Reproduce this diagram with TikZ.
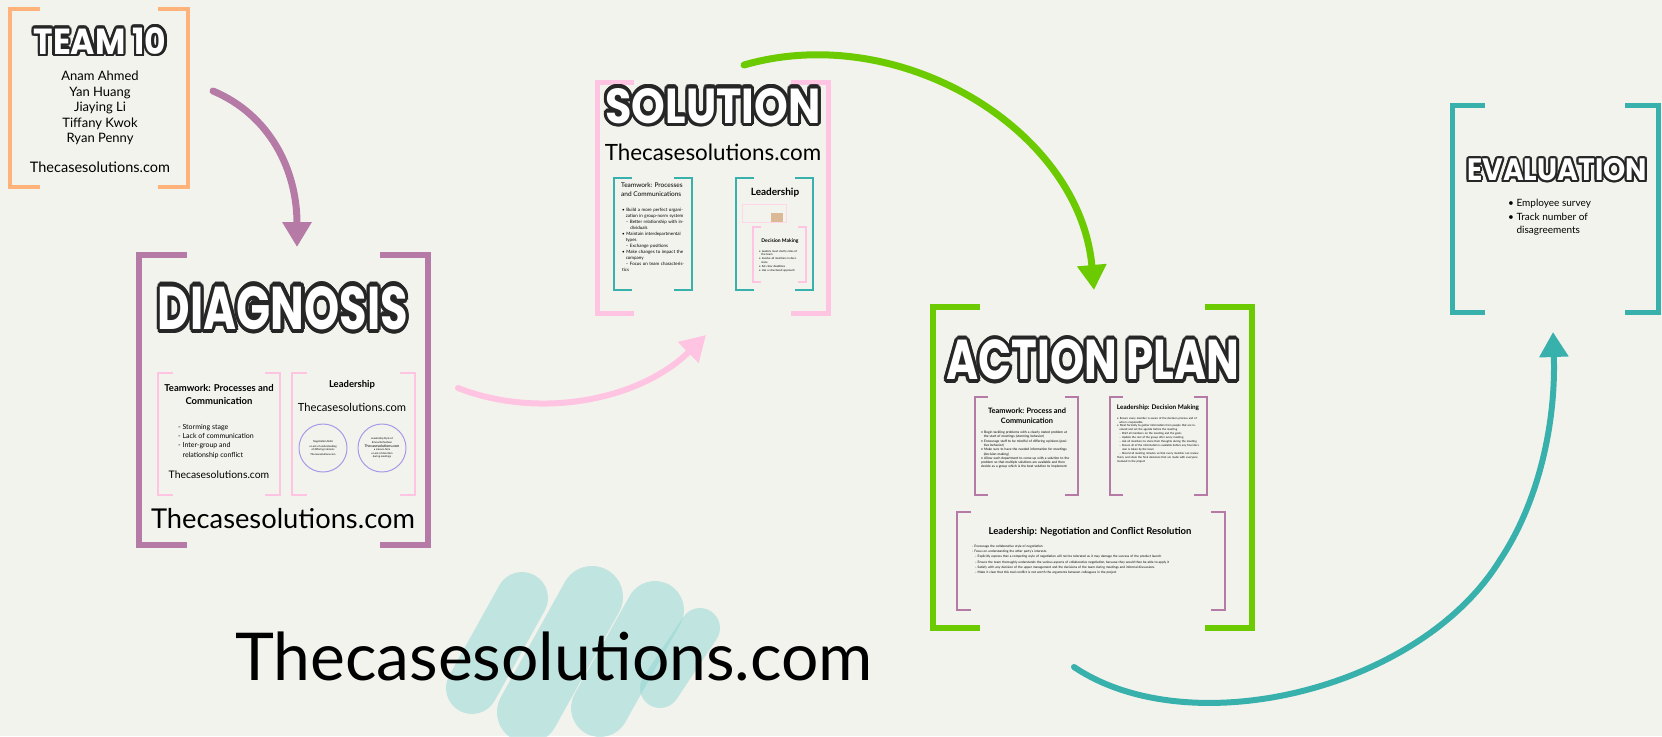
\documentclass[tikz,border=0pt]{standalone}
\usepackage{fontspec}
\setmainfont{Lato}
\newfontfamily\ttlfont{Poppins}
\usepackage{graphicx}
\usepackage{contour}
\contourlength{1.4pt}
\usetikzlibrary{arrows.meta}
\definecolor{bg}{HTML}{F3F3EE}
\definecolor{peach}{HTML}{FFB27A}
\definecolor{mauve}{HTML}{B57BA6}
\definecolor{blush}{HTML}{FFC4E1}
\definecolor{lime}{HTML}{6CCB00}
\definecolor{sea}{HTML}{38B0AC}
\definecolor{lilac}{HTML}{A899E8}
\definecolor{brushsea}{HTML}{8FD6D3}
\newcommand{\fs}[2]{\fontsize{#1}{#2}\selectfont}
\newcommand{\ttl}[3]{\resizebox{#1pt}{#2pt}{\contour{black!85}{\textcolor{white}{\ttlfont\bfseries\fs{20}{20}#3}}}}
\newcommand{\itm}[1]{\par\hangindent=0.8em\hangafter=1\textbullet\ #1}
\newcommand{\sitm}[1]{\par\hangindent=1.8em\hangafter=1\hspace*{0.8em}--\ #1}
\newcommand{\brackets}[3]{%
  \draw[#3] ([xshift=#2]#1.north west) -- (#1.north west) -- (#1.south west) -- ([xshift=#2]#1.south west);
  \draw[#3] ([xshift=-#2]#1.north east) -- (#1.north east) -- (#1.south east) -- ([xshift=-#2]#1.south east);}
\tikzstyle{slide}=[inner sep=0, outer sep=0]
\tikzstyle{url}=[inner sep=0, anchor=base]
\tikzstyle{head}=[inner sep=0, font=\bfseries, align=center]
\tikzstyle{small}=[inner sep=0, anchor=north west, align=left]
\tikzstyle{flowarrow}=[line width=7pt, line cap=round, -{Triangle[length=25pt,width=28pt]}]
\begin{document}
\begin{tikzpicture}[x=1pt, y=-1pt]
    \useasboundingbox[fill=bg] (0,0) rectangle (1662,736);
    % frames
    \node[slide, minimum width=178pt, minimum height=178pt] (team) at (99,98) {};
    \node[slide, minimum width=289pt, minimum height=290pt] (diag) at (283.5,400) {};
    \node[slide, minimum width=122pt, minimum height=122pt] (diagl) at (219,434) {};
    \node[slide, minimum width=123pt, minimum height=122pt] (diagr) at (353.5,434) {};
    \node[slide, minimum width=231pt, minimum height=231pt] (sol) at (712.5,197.5) {};
    \node[slide, minimum width=78pt, minimum height=112pt] (soll) at (653,234) {};
    \node[slide, minimum width=77pt, minimum height=112pt] (solr) at (774.5,234) {};
    \node[slide, minimum width=53pt, minimum height=55pt] (sold) at (779.5,254.5) {};
    \node[slide, minimum width=319pt, minimum height=321pt] (act) at (1092.5,467.5) {};
    \node[slide, minimum width=103pt, minimum height=98pt] (actl) at (1026.5,446) {};
    \node[slide, minimum width=97pt, minimum height=98pt] (actr) at (1158.5,446) {};
    \node[slide, minimum width=268pt, minimum height=98pt] (actb) at (1091,561) {};
    \node[slide, minimum width=206pt, minimum height=207pt] (eval) at (1555,208.5) {};
    \brackets{team}{30pt}{peach, line width=4pt}
    \brackets{diag}{48pt}{mauve, line width=6pt}
    \brackets{diagl}{15pt}{blush, line width=2.5pt}
    \brackets{diagr}{15pt}{blush, line width=2.5pt}
    \brackets{sol}{37pt}{blush, line width=5pt}
    \brackets{soll}{18pt}{sea, line width=2.5pt}
    \brackets{solr}{18pt}{sea, line width=2.5pt}
    \brackets{sold}{8pt}{blush, line width=1.2pt}
    \brackets{act}{47pt}{lime, line width=6pt}
    \brackets{actl}{13pt}{mauve, line width=2.5pt}
    \brackets{actr}{13pt}{mauve, line width=2.5pt}
    \brackets{actb}{14pt}{mauve, line width=2.5pt}
    \brackets{eval}{33pt}{sea, line width=5pt}
    % team 10
    \node (teamtitle) at (100,42) {\ttl{133}{27}{TEAM 10}};
    \node[inner sep=0, align=center, font=\fs{13}{15.5}] (names) at (100,108)
        {Anam Ahmed\\Yan Huang\\Jiaying Li\\Tiffany Kwok\\Ryan Penny};
    \node[url, font=\fs{14.5}{16}] (teamurl) at (100,172) {Thecasesolutions.com};
    % diagnosis
    \node (diagtitle) at (283,310) {\ttl{250}{43}{DIAGNOSIS}};
    \node[head, font=\bfseries\fs{9.5}{13}] (diaglhead) at (219,394.5) {Teamwork: Processes and\\Communication};
    \node[small, font=\fs{7}{9.3}] (diaglist) at (178,424)
        {- Storming stage\\- Lack of communication\\- Inter-group and\\\phantom{- }relationship conflict};
    \node[url, font=\fs{10.4}{12}] (diaglurl) at (219,478) {Thecasesolutions.com};
    \node[head, font=\bfseries\fs{9.5}{12}] (diagrhead) at (352,385) {Leadership};
    \node[url, font=\fs{11.2}{13}] (diagrurl) at (352,411) {Thecasesolutions.com};
    \node[draw=lilac, circle, line width=1pt, minimum size=48pt, inner sep=0, align=center,
          font=\fs{2.6}{3.4}] (negcircle) at (323,448)
        {Negotiation Skills\\[1pt]\textbullet\ Lack of understanding\\of differing interests\\[1pt]Thecasesolutions.com};
    \node[draw=lilac, circle, line width=1pt, minimum size=48pt, inner sep=0, align=center,
          font=\fs{2.6}{3.4}] (leadcircle) at (382,448)
        {Leadership Style of\\Emma Richardson\\[1pt]{\fs{3.6}{4.2}Thecasesolutions.com}\\\textbullet\ Laissez-faire\\\textbullet\ Lack of direction\\during meetings};
    \node[url, font=\fs{27.3}{30}] (diagurl) at (283,528) {Thecasesolutions.com};
    % solution
    \node (soltitle) at (713,107.5) {\ttl{215}{35}{SOLUTION}};
    \node[url, font=\fs{22.4}{25}] (solurl) at (713,160) {Thecasesolutions.com};
    \node[small, font=\fs{6.5}{8.8}] (sollhead) at (621,183) {Teamwork: Processes\\and Communications};
    \node[small, font=\fs{4.5}{6}, text width=64pt] (sollist) at (622,205)
        {\itm{Build a more perfect organization in group-norm system}
         \sitm{Better relationship with individuals}
         \itm{Maintain interdepartmental types}
         \sitm{Exchange positions}
         \itm{Make changes to impact the company}
         \sitm{Focus on team characteristics}};
    \node[head, font=\bfseries\fs{10}{12}] (solrhead) at (775,193) {Leadership};
    \node[draw=blush!70, line width=0.5pt, minimum width=44pt, minimum height=18pt, inner sep=0] (solimg) at (764,213) {};
    \node[fill=brown!55, minimum width=12pt, minimum height=9pt, inner sep=0] (solpic) at (777,217) {};
    \node[head, font=\bfseries\fs{5}{6}] (soldhead) at (780,241) {Decision Making};
    \node[small, font=\fs{2.8}{3.8}, text width=42pt] (soldlist) at (759,248)
        {\itm{Leaders must clarify roles of the team}
         \itm{Involve all members in decisions}
         \itm{Set clear deadlines}
         \itm{Use a structured approach}};
    % action plan
    \node (acttitle) at (1093,362) {\ttl{293}{40}{ACTION PLAN}};
    \node[head, font=\bfseries\fs{7.4}{10}] (actlhead) at (1027,416) {Teamwork: Process and\\Communication};
    \node[small, font=\fs{3.3}{4.3}, text width=90pt] (actllist) at (981,429)
        {\itm{Begin tackling problems with a clearly stated problem at the start of meetings (storming behavior)}
         \itm{Encourage staff to be mindful of differing opinions (positive behavior)}
         \itm{Make sure to have the needed information for meetings (decision making)}
         \itm{Allow each department to come up with a solution to the problem so that multiple solutions are available and then decide as a group which is the best solution to implement}};
    \node[head, font=\bfseries\fs{6.4}{8}] (actrhead) at (1158,408) {Leadership: Decision Making};
    \node[small, font=\fs{2.8}{3.9}, text width=84pt] (actrlist) at (1117,415)
        {\itm{Ensure every member is aware of the decision process and of who is responsible}
         \itm{Meet formally to gather information from people that are involved and set the agenda before the meeting}
         \sitm{Brief all members on the meeting and the goals}
         \sitm{Update the rest of the group after every meeting}
         \sitm{Ask all members to share their thoughts during the meeting}
         \sitm{Ensure all of the information is available before any final decision is taken by the team}
         \sitm{Record all meeting minutes so that every member can review them, and share the final decisions that are made with everyone involved in the project}};
    \node[head, font=\bfseries\fs{9.5}{11}] (actbhead) at (1090,532) {Leadership: Negotiation and Conflict Resolution};
    \node[small, font=\fs{3.2}{5.2}, text width=245pt] (actblist) at (972,545)
        {- Encourage the collaborative style of negotiation\\
         - Focus on understanding the other party's interests
         \sitm{Explicitly express that a competing style of negotiation will not be tolerated as it may damage the success of the product launch}
         \sitm{Ensure the team thoroughly understands the various aspects of collaborative negotiation, because they would then be able to apply it}
         \sitm{Satisfy with any decision of the upper management and the decisions of the team during meetings and informal discussions}
         \sitm{Make it clear that this tool conflict is not worth the arguments between colleagues in the project}};
    % evaluation
    \node (evaltitle) at (1557,171) {\ttl{180}{22}{EVALUATION}};
    \node[small, font=\fs{10}{13.5}] (evallist) at (1508,199)
        {\textbullet\ Employee survey\\\textbullet\ Track number of\\\phantom{\textbullet\ }disagreements};
    % watermark
    \foreach \a/\b/\c/\d/\w in {472/688/522/598/52, 528/712/592/597/62, 600/708/655/610/58, 660/688/700/628/40}
        \draw[brushsea, line width=\w pt, line cap=round, opacity=.5] (\a,\b) -- (\c,\d);
    \node[url, font=\fs{66}{70}] (mark) at (554,680) {Thecasesolutions.com};
    % arrows
    \coordinate (p1) at (213,91);
    \coordinate (p2) at (297,247);
    \coordinate (p3) at (458,388);
    \coordinate (p4) at (706,335);
    \coordinate (p5) at (744,65);
    \coordinate (p6) at (1094,290);
    \coordinate (p7) at (1074,667);
    \coordinate (p8) at (1553,332);
    \draw[flowarrow, mauve] (p1) .. controls (270,115) and (297,170) .. (p2);
    \draw[flowarrow, blush, line width=6pt] (p3) .. controls (540,420) and (640,400) .. (p4);
    \draw[flowarrow, lime] (p5) .. controls (900,20) and (1080,130) .. (p6);
    \draw[flowarrow, sea, line width=6pt] (p7) .. controls (1190,745) and (1420,690) .. (1500,560)
        .. controls (1540,500) and (1556,420) .. (p8);
\end{tikzpicture}
\end{document}
